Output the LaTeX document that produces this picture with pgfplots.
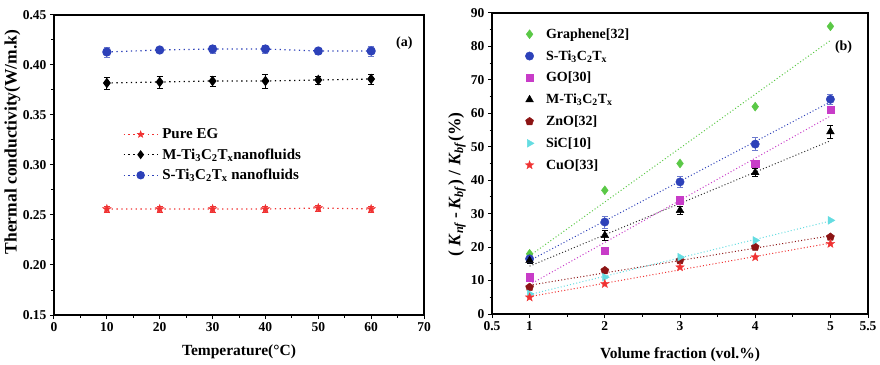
\documentclass[border=0pt]{standalone}
\usepackage{pgfplots}
\pgfplotsset{compat=1.18}
\usepackage{pgfplotstable}
\usepackage{fontspec}
\setmainfont{Liberation Serif}
\usetikzlibrary{plotmarks}
\definecolor{cblue}{RGB}{45,65,185}
\definecolor{cred}{RGB}{240,50,50}
\definecolor{cgreen}{RGB}{90,200,70}
\definecolor{cmag}{RGB}{200,60,200}
\definecolor{cdred}{RGB}{140,20,20}
\definecolor{ccyan}{RGB}{100,220,225}
\pgfdeclareplotmark{fstar}{%
 \pgfpathmoveto{\pgfpointpolar{90}{\pgfplotmarksize}}%
 \pgfpathlineto{\pgfpointpolar{126}{0.42\pgfplotmarksize}}%
 \pgfpathlineto{\pgfpointpolar{162}{\pgfplotmarksize}}%
 \pgfpathlineto{\pgfpointpolar{198}{0.42\pgfplotmarksize}}%
 \pgfpathlineto{\pgfpointpolar{234}{\pgfplotmarksize}}%
 \pgfpathlineto{\pgfpointpolar{270}{0.42\pgfplotmarksize}}%
 \pgfpathlineto{\pgfpointpolar{306}{\pgfplotmarksize}}%
 \pgfpathlineto{\pgfpointpolar{342}{0.42\pgfplotmarksize}}%
 \pgfpathlineto{\pgfpointpolar{18}{\pgfplotmarksize}}%
 \pgfpathlineto{\pgfpointpolar{54}{0.42\pgfplotmarksize}}%
 \pgfpathclose\pgfusepathqfillstroke}

\pgfplotstableread{
x y e
10 0.256 0.003
20 0.256 0.003
30 0.256 0.003
40 0.256 0.003
50 0.257 0.003
60 0.256 0.003
}\tEG
\pgfplotstableread{
x y e
10 0.382 0.006
20 0.383 0.006
30 0.384 0.005
40 0.384 0.007
50 0.385 0.004
60 0.386 0.005
}\tM
\pgfplotstableread{
x y e
10 0.413 0.005
20 0.415 0.002
30 0.416 0.004
40 0.416 0.004
50 0.414 0.003
60 0.414 0.005
}\tS

\pgfplotsset{
 mystyle/.style={
  scale only axis,
  axis line style={line width=1.3pt},
  tick align=outside,
  xtick pos=bottom, ytick pos=left,
  major tick length=4pt, minor tick length=2.5pt,
  every tick/.style={line width=1pt,black},
  /pgf/number format/assume math mode=true,
  ticklabel style={font=\bfseries\fontsize{13.5}{13.5}\selectfont},
  xlabel style={font=\bfseries\fontsize{15.5}{16}\selectfont},
  ylabel style={font=\bfseries\fontsize{17.5}{18}\selectfont},
 }
}

\begin{document}
\begin{tikzpicture}[x=1pt,y=1pt]
\useasboundingbox (0,0) rectangle (880,364);
% ---------- (a) ----------
\begin{axis}[mystyle,
 at={(54pt,49pt)}, anchor=south west,
 width=370pt, height=300pt,
 xmin=0, xmax=70, ymin=0.15, ymax=0.45,
 xtick={0,10,...,70}, ytick={0.15,0.20,...,0.45},
 minor x tick num=1, minor y tick num=1,
 yticklabel style={/pgf/number format/.cd, fixed, fixed zerofill, precision=2},
 xlabel={Temperature(°C)}, ylabel={Thermal conductivity(W/m.k)},
 xlabel style={at={(axis description cs:0.5,-0.123)}, anchor=center},
 ylabel style={at={(axis description cs:-0.112,0.577)}, anchor=center},
 legend style={draw=none, fill=none, at={(0.178,0.635)}, anchor=north west,
   font=\bfseries\fontsize{15}{15}\selectfont, row sep=4.5pt, column sep=2pt},
 legend cell align=left,
 legend image code/.code={\draw[mark repeat=2,mark phase=2,#1,mark size=3.6pt] plot coordinates {(0pt,0pt) (17pt,0pt) (34pt,0pt)};},
]
\addplot[cred, line width=1.2pt, dash pattern=on 1.3pt off 3.5pt, mark=fstar, mark size=4.5pt,
  mark options={solid, fill=cred, line width=0.4pt},
  error bars/.cd, y dir=both, y explicit, error bar style={line width=0.8pt,solid,cred},
  error mark options={rotate=90, mark size=3pt, line width=0.8pt, cred}]
 table[x=x,y=y,y error=e]{\tEG};
\addlegendentry{Pure EG}
\addplot[black, line width=1.2pt, dash pattern=on 1.3pt off 3.5pt, mark=diamond*, mark size=4.3pt,
  mark options={solid, fill=black},
  error bars/.cd, y dir=both, y explicit, error bar style={line width=0.8pt,solid,black},
  error mark options={rotate=90, mark size=3pt, line width=0.8pt, black}]
 table[x=x,y=y,y error=e]{\tM};
\addlegendentry{M-Ti\textsubscript{3}C\textsubscript{2}T\textsubscript{x}nanofluids}
\addplot[cblue, line width=1.2pt, dash pattern=on 1.3pt off 3.5pt, mark=*, mark size=4pt,
  mark options={solid, fill=cblue},
  error bars/.cd, y dir=both, y explicit, error bar style={line width=0.8pt,solid,cblue!70},
  error mark options={rotate=90, mark size=3pt, line width=0.8pt, cblue!70}]
 table[x=x,y=y,y error=e]{\tS};
\addlegendentry{S-Ti\textsubscript{3}C\textsubscript{2}T\textsubscript{x} nanofluids}
\node[font=\bfseries\fontsize{14}{14}\selectfont] at (axis description cs:0.947,0.905) {(a)};
\end{axis}
% ---------- (b) ----------
\begin{axis}[mystyle,
 at={(492pt,50pt)}, anchor=south west,
 width=376pt, height=301pt,
 xmin=0.5, xmax=5.5, ymin=0, ymax=90,
 xtick={0.5,1,2,3,4,5,5.5}, ytick={0,10,...,90},
 minor xtick={1.5,2.5,3.5,4.5}, minor y tick num=1,
 xlabel={Volume fraction (vol.\%)},
 ylabel={( \textit{K}\textsubscript{\textit{nf}}\,-\,\textit{K}\textsubscript{\textit{bf}}) / \textit{K}\textsubscript{\textit{bf}}(\%)},
 xlabel style={at={(axis description cs:0.5,-0.136)}, anchor=center},
 ylabel style={at={(axis description cs:-0.093,0.43)}, anchor=center},
 legend style={draw=none, fill=none, at={(0.08,0.962)}, anchor=north west,
   font=\bfseries\fontsize{14}{14}\selectfont, row sep=6.6pt, column sep=10pt},
 legend cell align=left,
 legend image code/.code={\draw[#1] plot coordinates {(0pt,0pt)};},
]
% fitted lines
\addplot[cgreen, line width=1pt, dash pattern=on 1pt off 2.2pt, forget plot] coordinates {(1,17.4) (5,81.8)};
\addplot[cblue, line width=1pt, dash pattern=on 1pt off 2.2pt, forget plot] coordinates {(1,15.96) (5,63.44)};
\addplot[cmag, line width=1pt, dash pattern=on 1pt off 2.2pt, forget plot] coordinates {(1,8.8) (5,59.2)};
\addplot[black!80, line width=1pt, dash pattern=on 1pt off 2.2pt, forget plot] coordinates {(1,14.3) (5,51.8)};
\addplot[cdred, line width=1pt, dash pattern=on 1pt off 2.2pt, forget plot] coordinates {(1,8.6) (5,23.4)};
\addplot[ccyan, line width=1pt, dash pattern=on 1pt off 2.2pt, forget plot] coordinates {(1,5.8) (5,27.8)};
\addplot[cred, line width=1pt, dash pattern=on 1pt off 2.2pt, forget plot] coordinates {(1,5.2) (5,21.2)};
% data
\addplot[only marks, mark=diamond*, mark size=4.5pt, cgreen, mark options={fill=cgreen}]
 coordinates {(1,18) (2,37) (3,45) (4,62) (5,86)};
\addlegendentry{Graphene[32]}
\addplot[only marks, mark=*, mark size=4.2pt, cblue, mark options={fill=cblue},
  error bars/.cd, y dir=both, y explicit, error bar style={line width=0.8pt,cblue!70},
  error mark options={rotate=90, mark size=3pt, line width=0.8pt, cblue!70}]
 coordinates {(1,16.5) +- (0,1.2) (2,27.5) +- (0,1.8) (3,39.5) +- (0,1.5) (4,50.8) +- (0,2) (5,64.2) +- (0,1.5)};
\addlegendentry{S-Ti\textsubscript{3}C\textsubscript{2}T\textsubscript{x}}
\addplot[only marks, mark=square*, mark size=3.6pt, cmag, mark options={fill=cmag}]
 coordinates {(1,11) (2,19) (3,34) (4,45) (5,61)};
\addlegendentry{GO[30]}
\addplot[only marks, mark=triangle*, mark size=4.5pt, black, mark options={fill=black},
  error bars/.cd, y dir=both, y explicit, error bar style={line width=0.8pt,black},
  error mark options={rotate=90, mark size=3pt, line width=0.8pt, black}]
 coordinates {(1,16) +- (0,1) (2,23.5) +- (0,1.5) (3,31) +- (0,1.3) (4,42.3) +- (0,1.2) (5,54.5) +- (0,2)};
\addlegendentry{M-Ti\textsubscript{3}C\textsubscript{2}T\textsubscript{x}}
\addplot[only marks, mark=pentagon*, mark size=4.2pt, cdred, mark options={fill=cdred}]
 coordinates {(1,8) (2,13) (3,16) (4,20) (5,23)};
\addlegendentry{ZnO[32]}
\addplot[only marks, mark=triangle*, mark size=4.5pt, ccyan, mark options={fill=ccyan, rotate=-90}]
 coordinates {(1,6) (2,11) (3,17) (4,22) (5,28)};
\addlegendentry{SiC[10]}
\addplot[only marks, mark=fstar, mark size=4.5pt, cred, mark options={fill=cred, line width=0.3pt}]
 coordinates {(1,5) (2,9) (3,14) (4,17) (5,21)};
\addlegendentry{CuO[33]}
\node[font=\bfseries\fontsize{14}{14}\selectfont] at (axis description cs:0.935,0.885) {(b)};
\end{axis}
\end{tikzpicture}
\end{document}
